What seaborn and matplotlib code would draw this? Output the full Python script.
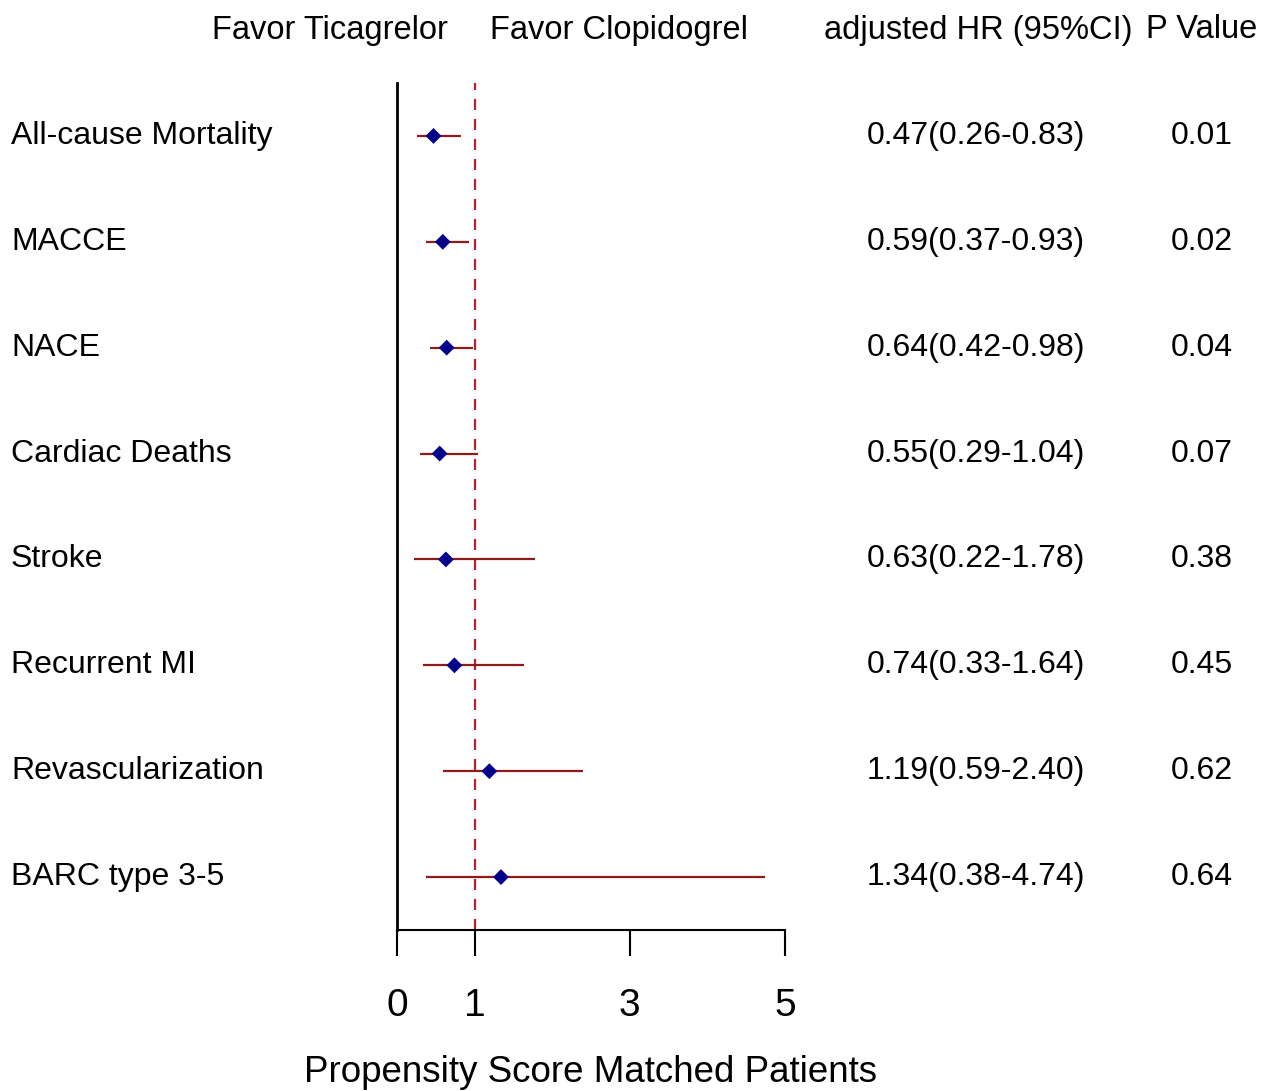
import numpy as np
import pandas as pd
import seaborn as sns
import matplotlib.pyplot as plt
import matplotlib.transforms as mtransforms

# Data
outcomes = ['All-cause Mortality', 'MACCE', 'NACE', 'Cardiac Deaths', 'Stroke',
            'Recurrent MI', 'Revascularization', 'BARC type 3-5']
hr = [0.47, 0.59, 0.64, 0.55, 0.63, 0.74, 1.19, 1.34]
ci_low = [0.26, 0.37, 0.42, 0.29, 0.22, 0.33, 0.59, 0.38]
ci_high = [0.83, 0.93, 0.98, 1.04, 1.78, 1.64, 2.40, 4.74]
p_values = ['0.01', '0.02', '0.04', '0.07', '0.38', '0.45', '0.62', '0.64']
x_ticks = [0, 1, 3, 5]

df = pd.DataFrame({'outcome': outcomes, 'hr': hr, 'lo': ci_low, 'hi': ci_high, 'p': p_values})
df['row'] = np.arange(1, len(df) + 1)

sns.set_theme(style='white')
plt.rcParams['font.family'] = ['Liberation Sans', 'DejaVu Sans']
plt.rcParams['text.color'] = 'black'
plt.rcParams['axes.labelcolor'] = 'black'
plt.rcParams['xtick.color'] = 'black'

W, H = 1267, 1091
fig = plt.figure(figsize=(W / 100, H / 100), dpi=100)
ax = fig.add_axes([397 / W, 1 - 930 / H, 388 / W, (930 - 83) / H])

# confidence intervals
ax.hlines(df['row'], df['lo'], df['hi'], color='#8e1a1a', lw=1.6, zorder=2)
# reference line at HR = 1
ax.axvline(1, color='#b22230', lw=1.6, ls=(0, (5, 4)), zorder=1)
# point estimates
sns.scatterplot(data=df, x='hr', y='row', marker='D', color='#00008b', s=65,
                edgecolor='none', zorder=3, ax=ax)

ax.set_xlim(0, 5)
ax.set_ylim(len(df) + 0.5, 0.5)
ax.set_xticks(x_ticks)
ax.set_xticklabels([str(t) for t in x_ticks], fontsize=28)
ax.set_yticks([])
ax.set_ylabel('')
ax.tick_params(axis='x', direction='out', length=19, width=1.5, pad=23,
               bottom=True, color='black')
ax.set_xlabel('Propensity Score Matched Patients', fontsize=26.5, labelpad=22)

for s in ['top', 'right']:
    ax.spines[s].set_visible(False)
ax.spines['left'].set_color('black')
ax.spines['left'].set_linewidth(2.0)
ax.spines['bottom'].set_color('black')
ax.spines['bottom'].set_linewidth(1.5)

# text columns
trans = mtransforms.blended_transform_factory(fig.transFigure, ax.transData)
fs = 23
for _, r in df.iterrows():
    ax.text(11 / W, r['row'], r['outcome'], transform=trans, ha='left', va='center',
            fontsize=fs)
    ax.text(1085 / W, r['row'], f"{r['hr']:.2f}({r['lo']:.2f}-{r['hi']:.2f})",
            transform=trans, ha='right', va='center', fontsize=fs)
    ax.text(1202 / W, r['row'], r['p'], transform=trans, ha='center', va='center',
            fontsize=fs)

hy = 1 - 30 / H
hfs = 23.5
fig.text(330 / W, hy, 'Favor Ticagrelor', ha='center', va='center', fontsize=hfs)
fig.text(619 / W, hy, 'Favor Clopidogrel', ha='center', va='center', fontsize=hfs)
fig.text(978 / W, hy, 'adjusted HR (95%CI)', ha='center', va='center', fontsize=hfs)
fig.text(1202 / W, hy, 'P Value', ha='center', va='center', fontsize=hfs)

fig.savefig('out.png', dpi=100, facecolor='white')
